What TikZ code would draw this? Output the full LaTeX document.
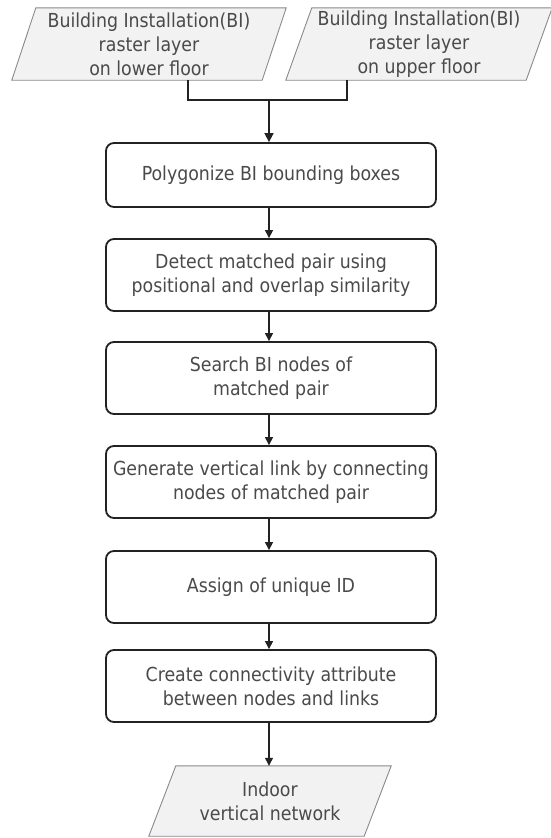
\documentclass[tikz,border=0pt]{standalone}
\usepackage{fontspec}
\setmainfont{DejaVu Sans Condensed}
\usetikzlibrary{arrows.meta}
\definecolor{txt}{HTML}{4A4A4A}
\definecolor{edge}{HTML}{222222}
\definecolor{parafill}{HTML}{F2F2F2}
\definecolor{paraedge}{HTML}{8A8A8A}
\tikzset{
  x=1pt, y=1pt,
  every node/.style={font=\fontsize{19.3}{24}\selectfont, text=txt, align=center},
  stepbox/.style={draw=edge, line width=1.8pt, rounded corners=8pt,
    minimum width=330pt, minimum height=72pt, inner sep=0pt, fill=white},
  iobox/.style={inner sep=0pt, minimum height=72pt},
  para/.style={draw=paraedge, fill=parafill, line width=0.9pt},
  link/.style={draw=edge, line width=1.1pt},
  flow/.style={draw=edge, line width=1.1pt, -{Triangle[length=8pt,width=8pt]}},
  mainflow/.style={draw=edge, line width=1.6pt, -{Triangle[length=9pt,width=9pt]}}
}
\newcommand{\slantbox}[2]{%
  \draw[para] (#1.south west) -- ([xshift=-#2]#1.south east)
    -- (#1.north east) -- ([xshift=#2]#1.north west) -- cycle;}
\begin{document}
\begin{tikzpicture}
\useasboundingbox[fill=white] (0,0) rectangle (551,-838);

% input layers
\node[iobox, minimum width=274pt] (in1) at (149,-44) {};
\node[iobox, minimum width=266pt] (in2) at (419,-44) {};
\slantbox{in1}{24pt}
\slantbox{in2}{26pt}
\node at (in1) {Building Installation(BI)\\raster layer\\on lower floor};
\node at (in2) {Building Installation(BI)\\raster layer\\on upper floor};

% processing steps
\node[stepbox, minimum height=64pt] (b1) at (271,-175) {Polygonize BI bounding boxes};
\node[stepbox] (b2) at (271,-275) {Detect matched pair using\\positional and overlap similarity};
\node[stepbox] (b3) at (271,-378) {Search BI nodes of\\matched pair};
\node[stepbox] (b4) at (271,-482) {Generate vertical link by connecting\\nodes of matched pair};
\node[stepbox] (b5) at (271,-587) {Assign of unique ID};
\node[stepbox] (b6) at (271,-686) {Create connectivity attribute\\between nodes and links};

% output
\node[iobox, minimum width=242pt, minimum height=70pt] (out) at (270,-801) {};
\slantbox{out}{27pt}
\node at (out) {Indoor\\vertical network};

% connectors
\coordinate (j) at (269,-100);
\draw[link] ([xshift=39pt]in1.south) |- (j) -| ([xshift=-72pt]in2.south);
\draw[mainflow] (j) -- (j |- b1.north);
\draw[flow] (b1.south -| j) -- (j |- b2.north);
\draw[flow] (b2.south -| j) -- (j |- b3.north);
\draw[flow] (b3.south -| j) -- (j |- b4.north);
\draw[flow] (b4.south -| j) -- (j |- b5.north);
\draw[flow] (b5.south -| j) -- (j |- b6.north);
\draw[flow] (b6.south -| j) -- (j |- out.north);
\end{tikzpicture}
\end{document}
